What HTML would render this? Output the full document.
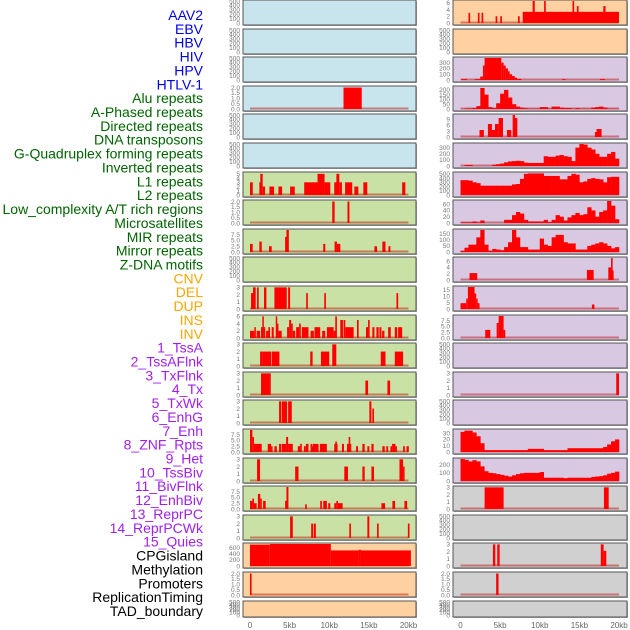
<!DOCTYPE html>
<html><head><meta charset="utf-8"><style>
html,body{margin:0;padding:0;background:#fff;width:630px;height:630px;overflow:hidden}
svg{display:block}
.lab{font-family:"Liberation Sans",sans-serif;font-size:14px}
.tk{font-family:"Liberation Sans",sans-serif;font-size:6.5px;fill:#777}
.xt{font-family:"Liberation Sans",sans-serif;font-size:8px;fill:#666}
</style></head><body>
<svg id="chart" width="630" height="630" viewBox="0 0 630 630"></svg>
<script>
const trackLabels = ["AAV2","EBV","HBV","HIV","HPV","HTLV-1","Alu repeats","A-Phased repeats","Directed repeats","DNA transposons","G-Quadruplex forming repeats","Inverted repeats","L1 repeats","L2 repeats","Low_complexity A/T rich regions","Microsatellites","MIR repeats","Mirror repeats","Z-DNA motifs","CNV","DEL","DUP","INS","INV","1_TssA","2_TssAFlnk","3_TxFlnk","4_Tx","5_TxWk","6_EnhG","7_Enh","8_ZNF_Rpts","9_Het","10_TssBiv","11_BivFlnk","12_EnhBiv","13_ReprPC","14_ReprPCWk","15_Quies","CPGisland","Methylation","Promoters","ReplicationTiming","TAD_boundary"];
const labelGroups = ["v","v","v","v","v","v","r","r","r","r","r","r","r","r","r","r","r","r","r","s","s","s","s","s","c","c","c","c","c","c","c","c","c","c","c","c","c","c","c","o","o","o","o","o"];
const xTickValues = [0,5000,10000,15000,20000];
const xTickLabels = ["0","5kb","10kb","15kb","20kb"];

// bars: [startKb, endKb, value]
const L04_bars = [[11.8,14.1,2]];
const L07_bars = [[0,0.35,3],[1.18,1.5,3],[1.3,1.6,5],[1.6,1.9,2],[2.45,3.04,2],[3.59,4.05,2],[5.06,5.65,2],[6.84,8.52,3],[8.52,9.41,5],[9.41,10.13,3],[10.63,11.05,3],[10.9,11.27,5],[11.27,11.6,3],[12.0,12.9,3],[13.17,13.67,2],[14.3,14.8,3],[19.2,19.6,3]];
const L08_bars = [[10.38,10.68,2],[12.3,12.55,2]];
const L09_bars = [[0,0.34,3.5],[1.18,1.48,4.5],[2.4,2.74,2.5],[4.43,4.68,6.5],[4.6,4.9,9.5],[9.24,9.5,3.5],[10.67,10.97,4.5],[10.97,11.4,3.5],[15.7,16.03,2.5],[16.7,17.1,4.5],[17.47,17.72,2.5]];
const L11_bars = [[0.13,0.38,2.2],[0.38,0.72,3],[0.89,1.1,3],[1.77,2.07,3],[3.08,4.64,3],[4.81,5.06,3],[7.09,7.3,2.2],[9.37,9.58,2.2],[18.48,18.7,2.2]];
const L12_bars = [[0,0.55,2],[0.55,0.72,3],[0.84,1.27,2],[1.39,1.56,3],[1.56,1.73,6],[1.73,1.9,3],[2.03,2.32,2],[2.32,2.53,3],[2.74,3.0,3],[3.25,3.42,6],[3.38,3.59,4],[3.59,4.0,2],[4.68,4.94,3],[4.94,5.19,5],[5.19,5.4,4],[5.4,5.7,2],[5.82,6.2,3],[6.2,6.41,4],[6.54,7.38,3],[7.64,8.06,2],[8.14,8.86,3],[9.11,9.49,2],[9.7,10.55,3],[10.55,10.89,2],[10.76,10.97,6],[11.39,11.73,5],[11.81,12.03,5],[12.03,13.08,3],[13.5,13.71,5],[14.64,14.9,3],[14.9,15.1,5],[15.44,15.7,3],[15.95,16.24,3],[16.33,16.58,3],[16.67,16.96,2],[17.43,17.76,3],[18.27,18.57,3],[18.69,19.2,3]];
const L13_bars = [[1.27,1.56,2],[1.56,2.66,2],[2.74,3.71,2],[7.6,7.9,2],[8.95,10.0,2],[10.38,10.89,3],[16.5,17.1,2],[18.27,19.32,2]];
const L14_bars = [[1.39,2.62,3],[14.56,14.9,2],[17.34,17.68,2]];
const L15_bars = [[3.67,3.92,3],[4.0,4.68,3],[4.81,5.27,3],[15.06,15.32,3],[15.44,15.65,2]];
const L16_bars = [[0,0.3,9.5],[0.3,0.5,6.5],[0.5,1.48,3.5],[2.24,2.66,3.5],[2.66,2.74,2.5],[3.08,3.38,2.5],[3.67,3.92,3.5],[4.0,4.56,3.5],[4.56,4.81,6.5],[4.81,5.4,3.5],[6.03,6.33,2.5],[6.33,6.54,3.5],[6.8,7.05,2.5],[7.05,7.38,3.5],[7.64,7.8,3.5],[7.8,7.9,2.5],[7.9,8.65,3.5],[8.82,9.7,3.5],[10.63,11.05,3.5],[10.76,10.97,4.5],[11.6,11.86,3.5],[12.24,12.78,3.5],[12.45,12.65,6.5],[13.38,13.63,2.5],[14.18,14.47,3.5],[14.81,15.06,2.5],[15.32,15.6,3.5],[16.7,17.0,2.5],[17.2,17.43,2.5],[17.72,17.93,2.5],[17.93,18.35,3.5],[18.35,18.5,2.5],[19.32,19.54,2.5],[19.75,20.04,2.5]];
const L17_bars = [[0.89,1.27,3],[5.7,6.12,2],[11.9,12.36,2],[14.18,14.47,2],[15.32,15.65,2],[18.86,19.32,3],[19.32,19.5,2]];
const L18_bars = [[0,0.3,3.5],[0.3,0.5,4.5],[0.5,0.84,2.5],[1.0,1.3,6.5],[1.3,1.48,4.5],[1.65,1.98,3.5],[4.43,4.64,3.5],[4.6,4.85,9.5],[6.96,7.17,2],[8.86,9.07,3.5],[9.24,9.7,3.5],[9.87,10.13,2.5],[10.63,10.89,2.5],[10.89,11.1,3.5],[11.1,11.69,2.5],[16.58,17.05,2.5],[17.97,18.31,3.5],[19.49,19.83,3.5]];
const L19_bars = [[5.06,5.4,3],[7.72,7.97,2],[8.06,8.31,2],[12.53,12.74,2],[14.81,15.06,3],[16.03,16.24,2],[19.92,20.13,2]];
const L20_bars = [[0,2.5,700],[2.5,10.2,720],[10.2,13.7,510],[13.7,14.0,530],[14.0,20.3,510]];
const L21_bars = [[0,0.2,2]];
const R01_bars = [[1.01,1.22,3],[2.19,2.4,3],[2.66,2.87,3],[4.43,4.64,2],[5.02,5.23,2],[7.26,7.47,2],[7.85,20.0,3.3],[9.1,9.37,6.5],[10.55,10.76,6.5],[14.13,14.34,6.5],[14.68,14.9,5],[18.02,18.3,5]];
const R03_bars = [[0.08,0.84,15],[1.77,2.49,15],[2.49,2.83,60],[2.83,3.04,250],[3.04,5.15,380],[5.15,5.44,300],[5.44,5.7,250],[5.7,5.99,200],[5.99,6.2,150],[6.2,6.5,100],[6.5,6.84,70],[6.84,7.13,40],[7.13,7.68,20],[12.83,13.25,15],[17.6,18.23,15]];
const R05_bars = [[2.4,2.95,3.5],[3.46,3.97,6.5],[3.97,4.35,3.5],[4.35,4.81,6.5],[4.81,5.36,9.5],[5.86,6.41,3.5],[6.58,6.88,11],[6.88,7.17,9.5],[16.96,17.38,2.5],[17.17,17.8,4]];
const R10_bars = [[1.14,2.11,2.2],[15.95,16.8,3.2],[18.65,19.07,4],[19.0,19.2,7],[19.07,19.32,3]];
const R11_bars = [[0,0.72,4.5],[0.72,0.93,8],[0.93,1.77,17],[1.56,1.98,12],[1.98,2.11,8],[2.11,2.4,4.5],[16.58,16.9,3.5]];
const R12_bars = [[3.12,3.76,3.5],[4.56,4.81,6.5],[4.81,5.44,9.5],[5.44,5.65,3.5]];
const R14_bars = [[19.65,20.0,3]];
const R18_bars = [[3.04,5.44,3],[18.1,18.7,3]];
const R20_bars = [[4.09,4.39,3],[4.64,4.94,3],[17.7,18.06,3],[18.06,18.4,2.1]];
const R21_bars = [[4.5,4.8,2]];
// profiles: 40 bins of 0.5 kb
const R04_profile = [0,5,5,10,30,220,150,20,10,60,160,200,120,50,25,15,8,3,3,3,20,20,3,25,25,15,10,10,3,10,3,3,3,15,20,25,15,3,3,3];
const R06_profile = [0,15,15,0,0,0,0,0,20,30,40,60,75,80,85,80,55,50,50,50,50,160,150,150,170,180,160,150,80,300,360,350,300,270,200,150,150,200,230,120];
const R07_profile = [350,350,340,300,280,220,220,220,220,220,220,220,220,250,260,380,500,510,510,510,510,450,450,450,450,370,370,450,500,480,300,320,380,400,380,370,300,420,430,430];
const R08_profile = [2,2,2,5,2,8,0,0,0,0,0,10,10,25,35,30,10,5,5,5,5,10,3,10,25,20,8,18,25,32,25,28,50,40,20,35,40,70,55,12];
const R09_profile = [10,35,60,60,120,180,60,10,25,20,15,40,80,180,120,40,40,20,20,20,110,60,50,120,140,140,80,70,70,20,20,20,50,60,70,80,70,50,30,40];
const R16_profile = [32,34,34,31,25,14,3,3,3,3,3,3,3,3,3,3,3,5,5,5,5,3,3,3,3,3,3,6,6,6,6,6,6,6,6,6,8,12,17,20];
const R17_profile = [270,260,240,255,240,180,120,100,95,85,75,65,55,70,85,95,100,100,100,100,110,40,40,40,40,40,35,40,40,40,40,40,40,50,55,60,70,90,100,115];

const T500=[0,100,200,300,400,500], T3=[0,1,2,3], T2=[0,0.5,1,1.5,2], T75=[0,2.5,5,7.5];
const BG={b:"#c8e4ec",g:"#c9e1a5",o:"#ffd1a1",p:"#d8c8e2",k:"#d0d0d0"};
const panels = [
 {c:0,r:0,bg:"b",t:T500,m:500},{c:0,r:1,bg:"b",t:T500,m:500},{c:0,r:2,bg:"b",t:T500,m:500},
 {c:0,r:3,bg:"b",t:T2,m:2.05,bars:L04_bars},{c:0,r:4,bg:"b",t:T500,m:500},{c:0,r:5,bg:"b",t:T500,m:500},
 {c:0,r:6,bg:"g",t:[0,1,2,3,4,5],m:5.2,bars:L07_bars},{c:0,r:7,bg:"g",t:T2,m:2.05,bars:L08_bars},
 {c:0,r:8,bg:"g",t:T75,m:9.5,bars:L09_bars},{c:0,r:9,bg:"g",t:T500,m:500},
 {c:0,r:10,bg:"g",t:T3,m:3.05,bars:L11_bars},{c:0,r:11,bg:"g",t:[0,2,4,6],m:6.1,bars:L12_bars},
 {c:0,r:12,bg:"g",t:T3,m:3.05,bars:L13_bars},{c:0,r:13,bg:"g",t:T3,m:3.05,bars:L14_bars},
 {c:0,r:14,bg:"g",t:T3,m:3.05,bars:L15_bars},{c:0,r:15,bg:"g",t:T75,m:9.5,bars:L16_bars},
 {c:0,r:16,bg:"g",t:T3,m:3.05,bars:L17_bars},{c:0,r:17,bg:"g",t:T75,m:9.5,bars:L18_bars},
 {c:0,r:18,bg:"g",t:T3,m:3.05,bars:L19_bars},{c:0,r:19,bg:"o",t:[0,200,400,600],m:720,bars:L20_bars},
 {c:0,r:20,bg:"o",t:T2,m:2.05,bars:L21_bars},{c:0,r:21,bg:"o",t:T500,m:500},
 {c:1,r:0,bg:"o",t:[0,2,4,6],m:6.5,bars:R01_bars},{c:1,r:1,bg:"o",t:T500,m:500},
 {c:1,r:2,bg:"p",t:[0,100,200,300],m:380,bars:R03_bars},{c:1,r:3,bg:"p",t:[0,50,100,150,200],m:230,prof:R04_profile},
 {c:1,r:4,bg:"p",t:[0,3,6,9],m:11,bars:R05_bars},{c:1,r:5,bg:"p",t:[0,100,200,300],m:360,prof:R06_profile},
 {c:1,r:6,bg:"p",t:T500,m:520,prof:R07_profile},{c:1,r:7,bg:"p",t:[0,20,40,60],m:70,prof:R08_profile},
 {c:1,r:8,bg:"p",t:[0,50,100,150],m:180,prof:R09_profile},{c:1,r:9,bg:"p",t:[0,2,4,6],m:7,bars:R10_bars},
 {c:1,r:10,bg:"p",t:[0,5,10,15],m:17,bars:R11_bars},{c:1,r:11,bg:"p",t:T75,m:9.5,bars:R12_bars},
 {c:1,r:12,bg:"p",t:T500,m:500},{c:1,r:13,bg:"p",t:T3,m:3.05,bars:R14_bars},
 {c:1,r:14,bg:"p",t:T500,m:500},{c:1,r:15,bg:"p",t:[0,10,20,30],m:35,prof:R16_profile},
 {c:1,r:16,bg:"p",t:[0,100,200],m:270,prof:R17_profile},{c:1,r:17,bg:"k",t:T3,m:3.05,bars:R18_bars},
 {c:1,r:18,bg:"k",t:T500,m:500},{c:1,r:19,bg:"k",t:T3,m:3.05,bars:R20_bars},
 {c:1,r:20,bg:"k",t:T2,m:2.05,bars:R21_bars},{c:1,r:21,bg:"k",t:T500,m:500}
];

const NS="http://www.w3.org/2000/svg";
const svg=document.getElementById("chart");
function mk(tag,attrs,parent){const e=document.createElementNS(NS,tag);for(const k in attrs)e.setAttribute(k,attrs[k]);(parent||svg).appendChild(e);return e;}
const colors={v:"#0000ee",r:"#006400",s:"#ffa500",c:"#a020f0",o:"#000000"};
trackLabels.forEach((s,i)=>{
  const t=mk("text",{x:203,y:(15+i*13.86+5).toFixed(1),"text-anchor":"end",class:"lab",fill:colors[labelGroups[i]]});
  
  
  t.textContent=s;
});
const colX=[{l:243,w:173,x0:250,x1:408.5,tx:240},{l:453,w:174,x0:460.5,x1:619,tx:450}];
function xs(c,kb){const g=colX[c];return g.x0+(kb/20)*(g.x1-g.x0);}
panels.forEach(p=>{
  const g=colX[p.c];
  const top=Math.round(p.r*28.6), h=p.r===21?16:25;
  const grp=mk("g",{});
  
  
  mk("rect",{x:g.l+1,y:top+1,width:g.w,height:h,fill:"#aaa"},grp);
  mk("rect",{x:g.l,y:top,width:g.w,height:h,fill:BG[p.bg],stroke:"#555","stroke-width":1},grp);
  const yT=top+1,yB=top+h-2;
  const ys=v=>yB-(v/p.m)*(yB-yT);
  const dec=p.t.some(v=>v%1!==0);
  p.t.forEach(v=>{
    const t=mk("text",{x:g.tx,y:(ys(v)+2.3).toFixed(1),"text-anchor":"end",class:"tk"},grp);
    
    
    t.textContent=dec?v.toFixed(1):String(v);
  });
  if(p.bars||p.prof){
    mk("line",{x1:xs(p.c,0),x2:xs(p.c,20),y1:yB-0.5,y2:yB-0.5,stroke:"rgba(190,0,0,0.45)","stroke-width":2},grp);
  }
  if(p.bars){
    p.bars.forEach(b=>{
      const x1=xs(p.c,b[0]),x2=xs(p.c,b[1]),y=ys(b[2]);
      const r=mk("rect",{x:x1.toFixed(2),y:y.toFixed(2),width:Math.max(1.5,x2-x1).toFixed(2),height:(yB-y).toFixed(2),fill:"#ff0000"},grp);
      
      
    });
  }
  if(p.prof){
    p.prof.forEach((v,i)=>{
      if(v<=0)return;
      const x1=xs(p.c,i*0.5),x2=xs(p.c,i*0.5+0.5),y=ys(v);
      const r=mk("rect",{x:x1.toFixed(2),y:y.toFixed(2),width:(x2-x1+0.3).toFixed(2),height:(yB-y).toFixed(2),fill:"#ff0000"},grp);
      
      
    });
  }
});
[0,1].forEach(c=>{
  xTickValues.forEach((v,i)=>{
    const t=mk("text",{x:xs(c,v/1000),y:628,"text-anchor":"middle",class:"xt"});
    
    
    t.textContent=xTickLabels[i];
  });
});
</script>
</body></html>
